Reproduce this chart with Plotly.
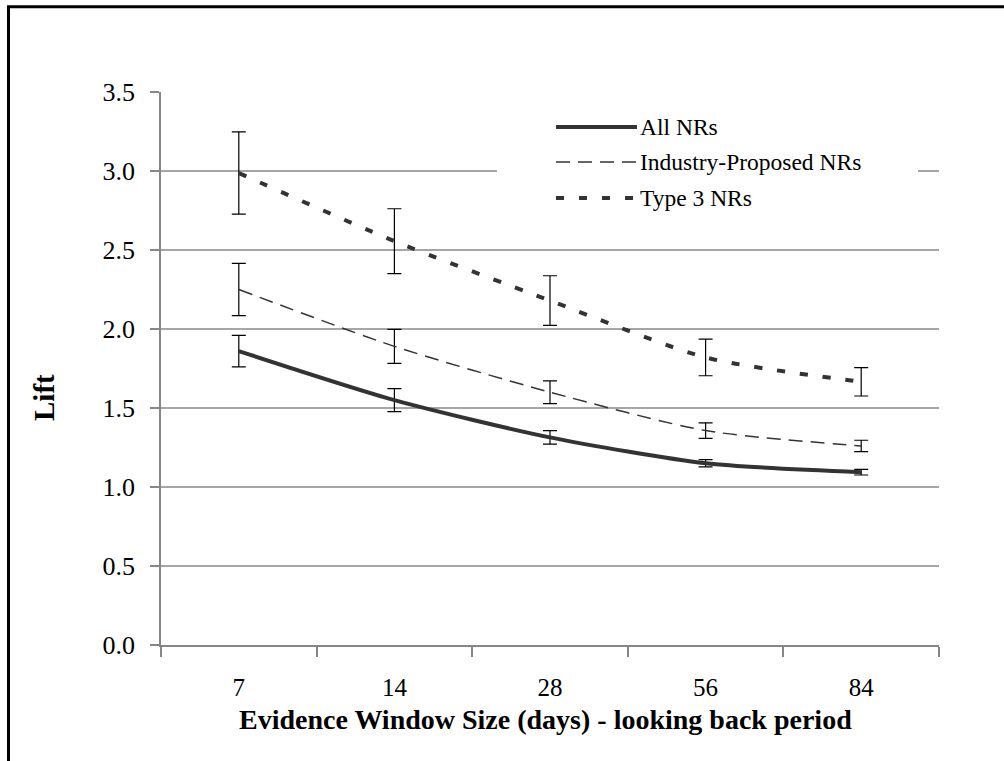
import plotly.graph_objects as go

# Evidence window sizes (days)
categories = ["7", "14", "28", "56", "84"]

# Lift per evidence window, with half-width of the error bars
all_nrs = [1.86, 1.55, 1.314, 1.15, 1.094]
all_nrs_err = [0.10, 0.073, 0.043, 0.023, 0.018]

industry_nrs = [2.25, 1.89, 1.60, 1.357, 1.26]
industry_nrs_err = [0.165, 0.107, 0.072, 0.049, 0.036]

type3_nrs = [2.987, 2.556, 2.18, 1.82, 1.666]
type3_nrs_err = [0.26, 0.205, 0.157, 0.116, 0.09]

series_names = ["All NRs", "Industry-Proposed NRs", "Type 3 NRs"]

W, H = 1004, 761
ML, MR, MT, MB = 161, 65, 92, 116
PW, PH = W - ML - MR, H - MT - MB
FONT = "Liberation Serif"
LINE_COLOR = "#333333"
GRID = "#a6a6a6"


def px(x):
    return (x - ML) / PW


def py(y):
    return (H - MB - y) / PH


styles = [
    dict(width=4, dash="solid"),
    dict(width=1.5, dash="14px,8px"),
    dict(width=4, dash="8px,15px"),
]
values = [all_nrs, industry_nrs, type3_nrs]
errors = [all_nrs_err, industry_nrs_err, type3_nrs_err]

fig = go.Figure()
for name, vals, errs, st in zip(series_names, values, errors, styles):
    fig.add_trace(go.Scatter(
        x=categories, y=vals, name=name, mode="lines",
        line=dict(color=LINE_COLOR, width=st["width"], dash=st["dash"],
                  shape="spline", smoothing=0.7),
        error_y=dict(type="data", array=errs, visible=True,
                     color="black", thickness=1.2, width=7),
        showlegend=False,
    ))

shapes = []
# outer chart frame
shapes.append(dict(type="rect", xref="paper", yref="paper",
                   x0=px(8.5), x1=px(1012), y0=py(770), y1=py(6.7),
                   line=dict(color="black", width=3), fillcolor="rgba(0,0,0,0)",
                   layer="above"))
# legend box
shapes.append(dict(type="rect", xref="paper", yref="paper",
                   x0=px(497), x1=px(918), y0=py(236), y1=py(102),
                   line=dict(width=0), fillcolor="white", layer="above"))

annotations = []
legend_rows = [127, 162, 198]
for name, st, yrow in zip(series_names, styles, legend_rows):
    shapes.append(dict(type="line", xref="paper", yref="paper",
                       x0=px(556), x1=px(637), y0=py(yrow), y1=py(yrow),
                       line=dict(color=LINE_COLOR, width=st["width"], dash=st["dash"]),
                       layer="above"))
    annotations.append(dict(text=name, xref="paper", yref="paper",
                            x=px(638), y=py(yrow), xanchor="left", yanchor="middle",
                            showarrow=False,
                            font=dict(family=FONT, size=23.5, color="black")))

# axis titles
annotations.append(dict(text="<b>Evidence Window Size (days) - looking back period</b>",
                        xref="paper", yref="paper", x=px(545), y=py(719),
                        xanchor="center", yanchor="middle", showarrow=False,
                        font=dict(family=FONT, size=28, color="black")))
annotations.append(dict(text="<b>Lift</b>", xref="paper", yref="paper",
                        x=px(44), y=py(398), xanchor="center", yanchor="middle",
                        textangle=-90, showarrow=False,
                        font=dict(family=FONT, size=29, color="black")))

fig.update_layout(
    width=W, height=H,
    margin=dict(l=ML, r=MR, t=MT, b=MB, pad=0),
    paper_bgcolor="white", plot_bgcolor="white",
    shapes=shapes, annotations=annotations,
    showlegend=False,
    font=dict(family=FONT),
)
fig.update_xaxes(
    type="category", range=[-0.5, 4.5], tickson="boundaries",
    showgrid=False, showline=True, linecolor="#868686", linewidth=1.5,
    ticks="outside", ticklen=10, tickcolor="#868686", tickwidth=1.5,
    tickfont=dict(family=FONT, size=25, color="black"), ticklabelstandoff=19,
)
fig.update_yaxes(
    range=[0, 3.5], dtick=0.5, tick0=0, tickformat=".1f",
    showgrid=True, gridcolor=GRID, gridwidth=1.5,
    showline=True, linecolor="#868686", linewidth=1.5,
    ticks="outside", ticklen=9, tickcolor="#868686", tickwidth=1.5,
    tickfont=dict(family=FONT, size=26, color="black"), ticklabelstandoff=10,
    zeroline=False,
)

fig.write_html("out.html")
